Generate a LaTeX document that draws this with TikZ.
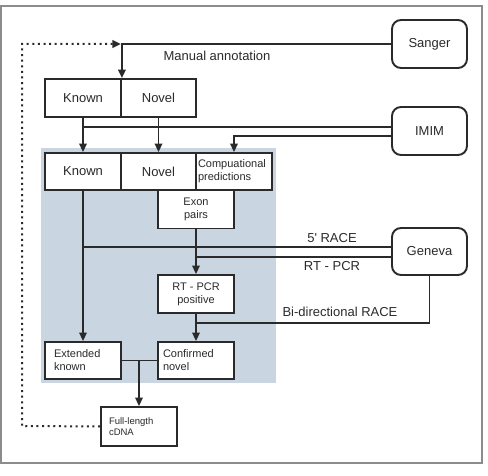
\documentclass[tikz,border=0pt]{standalone}
\usepackage{fontspec}
\setmainfont{Liberation Sans}
\usetikzlibrary{arrows.meta,calc}
\definecolor{ink}{HTML}{2A2A2A}
\definecolor{framegray}{HTML}{8C8C8C}
\definecolor{panel}{HTML}{C9D6E2}
\begin{document}
\begin{tikzpicture}[x=1pt,y=-1pt,
  bigf/.style={font=\fontsize{13}{15}\selectfont},
  midf/.style={font=\fontsize{11}{13}\selectfont},
  smallf/.style={font=\fontsize{9.5}{11}\selectfont},
  boxnode/.style={draw=ink, fill=white, line width=1.9pt, inner sep=0pt, text=ink},
  roundnode/.style={boxnode, rounded corners=9pt, bigf},
  conn/.style={draw=ink, line width=1.9pt},
  arr/.style={conn, -{Triangle[length=8.5pt,width=7.5pt]}},
  dotline/.style={draw=ink, line width=2pt, dash pattern=on 2pt off 3.6pt, -{Triangle[length=8.5pt,width=7.5pt]}},
  lbl/.style={bigf, text=ink, inner sep=0pt}
]
\useasboundingbox (0,0) rectangle (488,476);
\draw[framegray, line width=1.5pt] (1,6) rectangle (482,463);
\fill[panel] (41,148) rectangle (276,383);

% boxes
\node[boxnode, bigf, minimum width=76pt, minimum height=38pt] (Known1) at (83,98) {Known\hspace{10pt}};
\node[boxnode, bigf, minimum width=75pt, minimum height=38pt] (Novel1) at (158.5,98) {Novel\hspace{10pt}};
\node[boxnode, bigf, minimum width=76pt, minimum height=37pt] (Known2) at (83,171.5) {Known\hspace{10pt}};
\node[boxnode, bigf, minimum width=75pt, minimum height=37pt] (Novel2) at (158.5,171.5) {Novel\hspace{10pt}};
\node[boxnode, midf, minimum width=76pt, minimum height=37pt, text width=72pt, align=left] (Comp) at (234,171.5) {Compuational\\predictions};
\node[boxnode, midf, minimum width=76pt, minimum height=38pt, align=center] (Exon) at (196,209.5) {Exon\\pairs};
\node[boxnode, midf, minimum width=76pt, minimum height=38pt, align=center] (RTpos) at (196,294) {RT - PCR\\positive};
\node[boxnode, midf, minimum width=76pt, minimum height=37pt, text width=58pt, align=left] (Ext) at (83,360.5) {Extended\\known};
\node[boxnode, midf, minimum width=76pt, minimum height=37pt, text width=66pt, align=left] (Conf) at (196,360.5) {Confirmed\\novel};
\node[boxnode, smallf, minimum width=76pt, minimum height=39pt, text width=60pt, align=left] (Full) at (139,426.5) {Full-length\\cDNA};

\node[roundnode, minimum width=75pt, minimum height=48pt] (Sanger) at (429.5,44) {Sanger};
\node[roundnode, minimum width=75pt, minimum height=48pt] (IMIM) at (429.5,131) {IMIM};
\node[roundnode, minimum width=75pt, minimum height=47pt] (Geneva) at (429.5,251.5) {Geneva};

% coordinates
\coordinate (dotcorner) at (22,426);
\coordinate (imimA) at ($(IMIM.west)+(0,-4)$);
\coordinate (imimB) at ($(IMIM.west)+(0,5)$);
\coordinate (genA) at ($(Geneva.west)+(0,-4.5)$);
\coordinate (genB) at ($(Geneva.west)+(0,5.5)$);
\coordinate (biJ) at ($(RTpos.south)+(0,9)$);

% connectors
\draw[arr] (Sanger.west) -| (Known1.north east);
\draw[dotline] (Full.west) -- (dotcorner) |- ($(Known1.north east |- Sanger.west)+(-1,0)$);
\draw[conn] (imimA) -- (Known1.south |- imimA);
\draw[arr] (Known1.south) -- (Known2.north);
\draw[arr] (Novel1.south) -- (Novel2.north);
\draw[arr] (imimB) -| (Comp.north);
\draw[arr] (Exon.south) -- (RTpos.north);
\draw[conn] (genA) -- (Known2.south |- genA);
\draw[conn] (genB) -- (Exon.south |- genB);
\draw[arr] (Known2.south) -- (Ext.north);
\draw[conn] (Geneva.south) |- (biJ);
\draw[arr] (RTpos.south) -- (Conf.north);
\draw[conn] (Ext.east) -- (Conf.west);
\draw[arr] (Full.north |- Ext.east) -- (Full.north);

% labels
\node[lbl] (lman) at (217,56) {Manual annotation};
\node[lbl] (l5race) at (332,238) {5\textquotesingle{} RACE};
\node[lbl] (lrtpcr) at (332,266) {RT - PCR};
\node[lbl] (lbi) at (340,312) {Bi-directional RACE};
\end{tikzpicture}
\end{document}
